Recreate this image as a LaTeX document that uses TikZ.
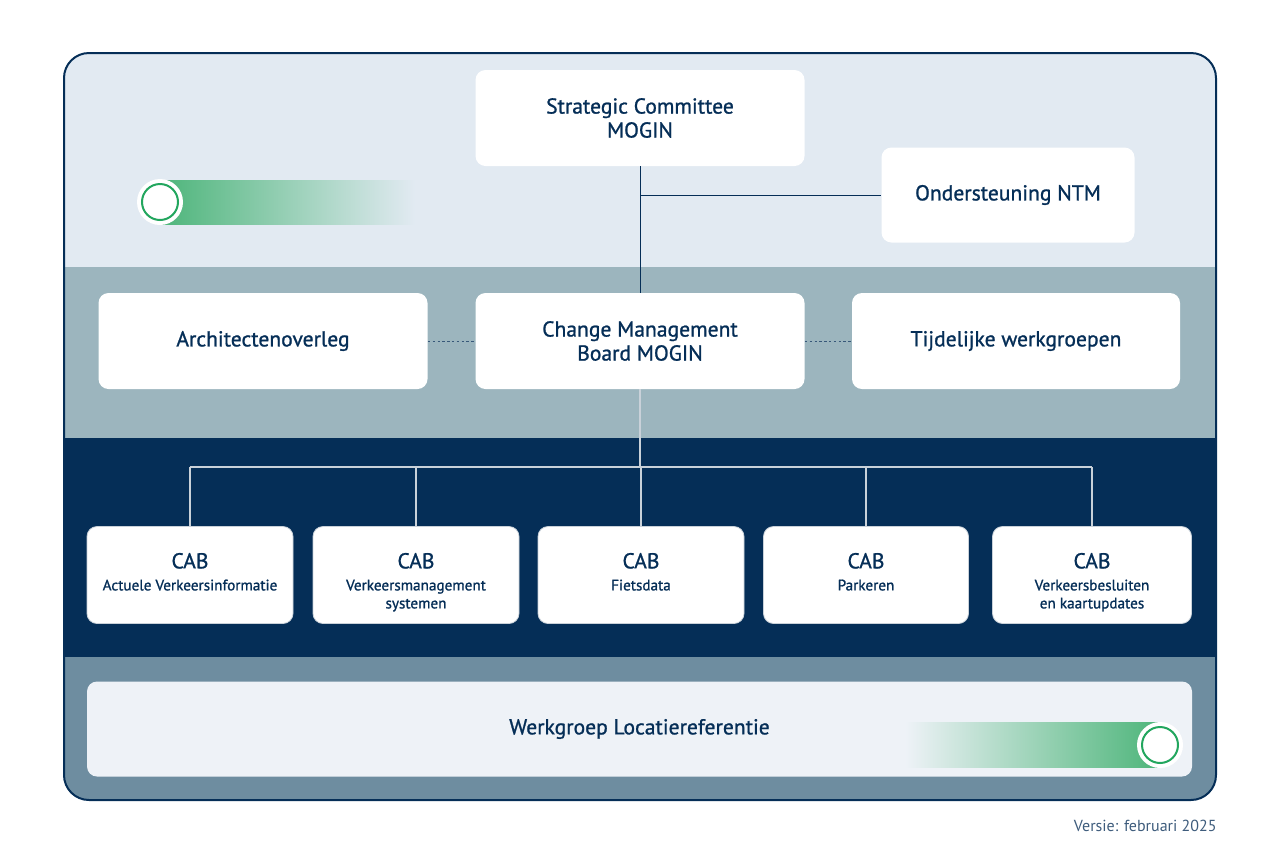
\documentclass[tikz,border=0pt]{standalone}
\usepackage{fontspec}
\setmainfont{PT Sans}
\newfontfamily\medfont{PT Sans}[FakeBold=1.0]
\usetikzlibrary{positioning,calc}

\definecolor{navy}{HTML}{052E57}
\definecolor{bandtop}{HTML}{E2EAF2}
\definecolor{bandmid}{HTML}{9CB5BE}
\definecolor{bandlow}{HTML}{6E8DA0}
\definecolor{werkfill}{HTML}{EEF2F7}
\definecolor{mogreen}{HTML}{4DB57A}
\definecolor{ringgreen}{HTML}{22A65E}
\definecolor{treeline}{HTML}{C9D1D9}
\definecolor{versiecol}{HTML}{3E5C7C}

\tikzset{
  panel/.style={draw=none, fill=white, rounded corners=5pt, text=navy,
    font=\medfont\fontsize{10.8}{12}\selectfont, align=center, inner sep=0pt},
  cabbox/.style={draw=treeline, line width=0.4pt, fill=white, rounded corners=5pt,
    text=navy, inner sep=0pt, minimum height=48.5pt},
  knob/.style={circle, fill=white, minimum size=23pt, inner sep=0pt},
  link/.style={navy, line width=0.5pt},
  dotlink/.style={navy!80, line width=0.5pt, dash pattern=on 1.2pt off 1.2pt},
  treelink/.style={treeline, line width=0.8pt}
}

\newcommand{\cabtext}[2]{\parbox[c][22pt][t]{#1}{\centering
  {\medfont\fontsize{10.8}{12}\selectfont CAB\par}\vspace{2pt}
  {\medfont\fontsize{7.6}{9}\selectfont #2\par}}}

\begin{document}
\begin{tikzpicture}[x=0.5pt,y=-0.5pt]
  \useasboundingbox (0,0) rectangle (1280,853);

  % Background bands inside the rounded frame
  \begin{scope}
    \clip[rounded corners=12.5pt] (64,53) rectangle (1216,800);
    \fill[bandtop] (64,53) rectangle (1216,267);
    \fill[bandmid] (64,267) rectangle (1216,438);
    \fill[navy] (64,438) rectangle (1216,657);
    \fill[bandlow] (64,657) rectangle (1216,800);
  \end{scope}
  \draw[navy, line width=1pt, rounded corners=12.5pt] (64,53) rectangle (1216,800);

  % Top slider
  \shade[left color=mogreen, right color=bandtop] (160,180) rectangle (415,224);
  \node[knob] (knobtop) at (160,202) {};
  \draw[ringgreen, line width=1pt] (knobtop.center) circle (18);

  % Top level
  \node[panel, minimum width=164.5pt, minimum height=48pt] (strat) at (640,118)
    {Strategic Committee\\MOGIN};
  \node[panel, minimum width=126.5pt, minimum height=47.5pt] (ond) at (1008,195)
    {Ondersteuning NTM};

  % Middle level
  \node[panel, minimum width=164.5pt, minimum height=48pt] (cmb) at (640,341)
    {Change Management\\Board MOGIN};
  \node[panel, minimum width=164.5pt, minimum height=48pt] (archi) at (263,341)
    {Architectenoverleg};
  \node[panel, minimum width=164pt, minimum height=48pt] (tijd) at (1016,341)
    {Tijdelijke werkgroepen};

  \draw[link] (strat.south) -- (cmb.north);
  \draw[link] (strat.south |- ond.west) -- (ond.west);
  \draw[dotlink] (archi.east) -- (cmb.west);
  \draw[dotlink] (cmb.east) -- (tijd.west);

  % CAB level
  \node[cabbox, minimum width=103pt] (cabavi) at (190,575)
    {\cabtext{100pt}{Actuele Verkeersinformatie}};
  \node[cabbox, minimum width=103pt] (cabvms) at (416,575)
    {\cabtext{100pt}{Verkeersmanagement\\systemen}};
  \node[cabbox, minimum width=103pt] (cabfiets) at (641,575)
    {\cabtext{100pt}{Fietsdata}};
  \node[cabbox, minimum width=102.5pt] (cabpark) at (866,575)
    {\cabtext{100pt}{Parkeren}};
  \node[cabbox, minimum width=99.5pt] (cabvb) at (1092,575)
    {\cabtext{96pt}{Verkeersbesluiten\\en kaartupdates}};

  \coordinate (split) at (640,467);
  \draw[treelink] (cmb.south) -- (split);
  \draw[treelink] (split -| cabavi.north) -- (split -| cabvb.north);
  \foreach \c in {cabavi,cabvms,cabfiets,cabpark,cabvb}
    \draw[treelink] (split -| \c.north) -- (\c.north);

  % Bottom level
  \node[panel, fill=werkfill, minimum width=552.5pt, minimum height=47.5pt] (werk) at (639.5,729)
    {Werkgroep Locatiereferentie};
  \shade[left color=werkfill, right color=mogreen] (905,722) rectangle (1160,767);
  \node[knob] (knobbot) at (1160,745) {};
  \draw[ringgreen, line width=1pt] (knobbot.center) circle (18);

  % Version
  \node[anchor=east, text=versiecol, font=\fontsize{8}{10}\selectfont, inner sep=0pt] (versie)
    at (1217,826) {Versie: februari 2025};
\end{tikzpicture}
\end{document}
